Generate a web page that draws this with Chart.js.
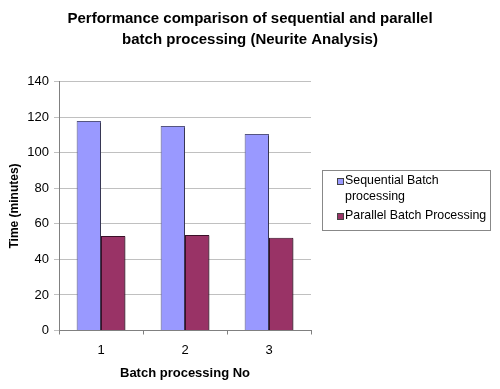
<!DOCTYPE html>
<html>
<head>
<meta charset="utf-8">
<script src="https://cdn.jsdelivr.net/npm/chart.js@4/dist/chart.umd.min.js"></script>
<style>
  html, body { margin: 0; padding: 0; background: #fff; }
  #wrap { width: 500px; height: 389px; }
</style>
</head>
<body>
<div id="wrap"><canvas id="chart" width="500" height="389"></canvas></div>
<script>
// data
const batches = ['1', '2', '3'];
const sequentialTimes = [117.8, 115.0, 110.5];
const parallelTimes = [53.1, 53.7, 52.1];
const seriesNames = ['Sequential Batch processing', 'Parallel Batch Processing'];
const legendLines = [['Sequential Batch', 'processing'], ['Parallel Batch Processing']];
const titleLines = ['Performance comparison of sequential and parallel', 'batch processing (Neurite Analysis)'];

const ctx = document.getElementById('chart').getContext('2d');
const FONT = 'Arial, "Liberation Sans", sans-serif';

// excel-like drop shadow on the bars
const barShadow = {
  id: 'barShadow',
  beforeDatasetsDraw(chart) {
    const c = chart.ctx;
    c.save();
    c.shadowColor = 'rgba(0,0,0,0.35)';
    c.shadowOffsetX = 2;
    c.shadowOffsetY = 1;
    c.shadowBlur = 0;
  },
  afterDatasetsDraw(chart) {
    chart.ctx.restore();
  }
};

// boxed legend on the right with wrapped labels
const boxLegend = {
  id: 'boxLegend',
  afterDraw(chart) {
    const c = chart.ctx;
    const area = chart.chartArea;
    const x = area.right + 11, y = 170, w = 168, h = 60;
    c.save();
    c.strokeStyle = '#888';
    c.lineWidth = 1;
    c.strokeRect(x + 0.5, y + 0.5, w, h);
    c.font = '12.4px ' + FONT;
    c.textBaseline = 'middle';
    c.fillStyle = '#000';
    let ty = y + 11;
    chart.data.datasets.forEach((ds, i) => {
      c.fillStyle = ds.backgroundColor;
      c.fillRect(x + 16, ty - 2, 6, 6);
      c.strokeStyle = '#444';
      c.strokeRect(x + 15.5, ty - 2.5, 6, 6);
      c.fillStyle = '#000';
      legendLines[i].forEach((line, j) => {
        c.fillText(line, x + 23, ty + 16 * j);
      });
      ty += 16 * legendLines[i].length + 3;
    });
    c.restore();
  }
};

new Chart(ctx, {
  type: 'bar',
  data: {
    labels: batches,
    datasets: [
      {
        label: seriesNames[0],
        data: sequentialTimes,
        backgroundColor: '#9999FF',
        borderColor: '#555580',
        borderWidth: 1,
        categoryPercentage: 0.58,
        barPercentage: 1.0
      },
      {
        label: seriesNames[1],
        data: parallelTimes,
        backgroundColor: '#993366',
        borderColor: '#3a1028',
        borderWidth: 1,
        categoryPercentage: 0.58,
        barPercentage: 1.0
      }
    ]
  },
  options: {
    responsive: false,
    animation: false,
    layout: { padding: 0 },
    plugins: {
      legend: { display: false },
      tooltip: { enabled: false },
      title: {
        display: true,
        text: titleLines,
        color: '#000',
        font: { family: FONT, size: 15, weight: 'bold', lineHeight: 1.4 },
        padding: { top: 8, bottom: 31.5 }
      }
    },
    scales: {
      x: {
        grid: { display: true, drawOnChartArea: false, drawTicks: true, tickLength: 4, color: '#808080' },
        border: { color: '#808080' },
        ticks: { color: '#000', font: { family: FONT, size: 13 }, padding: 8 },
        title: {
          display: true,
          text: 'Batch processing No',
          color: '#000',
          font: { family: FONT, size: 13, weight: 'bold' },
          padding: { top: 0, bottom: 8 }
        },
        afterFit(scale) { scale.height = 58.5; }
      },
      y: {
        min: 0,
        max: 140,
        ticks: { stepSize: 20, color: '#000', font: { family: FONT, size: 13 }, padding: 5 },
        grid: { color: '#c0c0c0', tickLength: 5, drawTicks: true },
        border: { color: '#808080' },
        title: {
          display: true,
          text: 'Time (minutes)',
          color: '#000',
          font: { family: FONT, size: 12, weight: 'bold' },
          padding: { top: 7, bottom: 0 }
        },
        afterFit(scale) { scale.width = 59; }
      },
      // empty right-hand axis that only reserves room for the legend box
      yRight: {
        position: 'right',
        min: 0,
        max: 140,
        grid: { display: false },
        border: { display: false },
        ticks: { display: false },
        afterFit(scale) { scale.width = 189; }
      }
    }
  },
  plugins: [barShadow, boxLegend]
});
</script>
</body>
</html>
